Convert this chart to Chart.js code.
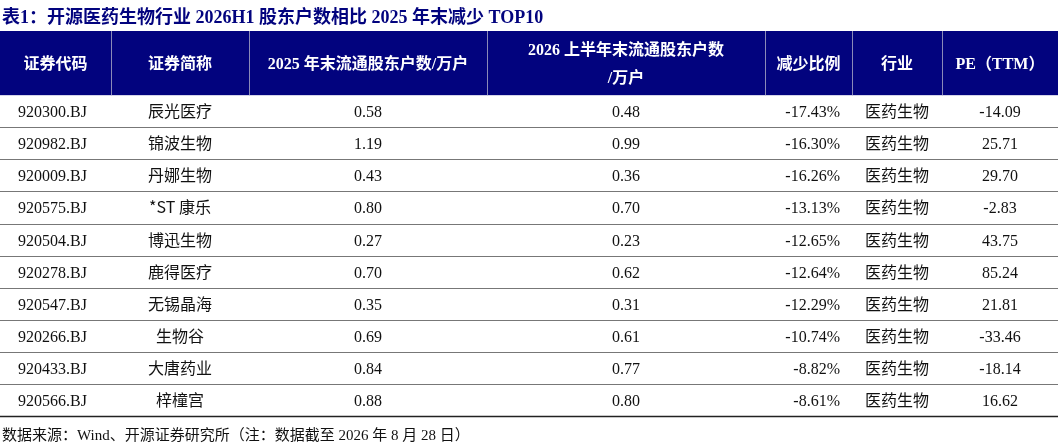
<!DOCTYPE html>
<html>
<head>
<meta charset="utf-8">
<script src="https://cdn.jsdelivr.net/npm/chart.js@4"></script>
<style>
  html, body { margin: 0; padding: 0; background: #fff; }
  #wrap { width: 1058px; height: 447px; position: relative; }
</style>
</head>
<body>
<div id="wrap"><canvas id="tbl"></canvas></div>
<script>
// table data
const headers = ['证券代码', '证券简称', '2025 年末流通股东户数/万户', '2026 上半年末流通股东户数\n/万户', '减少比例', '行业', 'PE（TTM）'];
const codes = ['920300.BJ', '920982.BJ', '920009.BJ', '920575.BJ', '920504.BJ', '920278.BJ', '920547.BJ', '920266.BJ', '920433.BJ', '920566.BJ'];
const names = ['辰光医疗', '锦波生物', '丹娜生物', '*ST 康乐', '博迅生物', '鹿得医疗', '无锡晶海', '生物谷', '大唐药业', '梓橦宫'];
const holders2025 = [0.58, 1.19, 0.43, 0.80, 0.27, 0.70, 0.35, 0.69, 0.84, 0.88];
const holders2026 = [0.48, 0.99, 0.36, 0.70, 0.23, 0.62, 0.31, 0.61, 0.77, 0.80];
const dropPct = [-17.43, -16.30, -16.26, -13.13, -12.65, -12.64, -12.29, -10.74, -8.82, -8.61];
const industry = ['医药生物', '医药生物', '医药生物', '医药生物', '医药生物', '医药生物', '医药生物', '医药生物', '医药生物', '医药生物'];
const pe = [-14.09, 25.71, 29.70, -2.83, 43.75, 85.24, 21.81, -33.46, -18.14, 16.62];

const titleText = '表1：开源医药生物行业 2026H1 股东户数相比 2025 年末减少 TOP10';
const sourceText = '数据来源：Wind、开源证券研究所（注：数据截至 2026 年 8 月 28 日）';

// layout (column edges in x-units, rows in y-units)
const colEdges = [0, 111, 249, 487, 765, 852, 942, 1058];
const NAVY = '#02037e';
const SERIF = '"Liberation Serif", "Noto Sans CJK SC", serif';
const CJK = '"Noto Sans CJK SC", sans-serif';

function cellText(r, c) {
  return [codes[r], names[r], holders2025[r].toFixed(2), holders2026[r].toFixed(2),
    dropPct[r].toFixed(2) + '%', industry[r], pe[r].toFixed(2)][c];
}

const tablePlugin = {
  id: 'tablePlugin',
  afterDraw(chart) {
    const ctx = chart.ctx;
    const x = chart.scales.x, y = chart.scales.y;
    ctx.save();
    ctx.textBaseline = 'alphabetic';
    // title
    ctx.fillStyle = NAVY;
    ctx.font = 'bold 18px ' + SERIF;
    ctx.textAlign = 'left';
    ctx.fillText(titleText, 2, 23);
    // header band
    const hTop = y.getPixelForValue(-2), hBot = y.getPixelForValue(0);
    ctx.fillStyle = NAVY;
    ctx.fillRect(x.getPixelForValue(0), hTop, x.getPixelForValue(1058) - x.getPixelForValue(0), hBot - hTop);
    ctx.strokeStyle = '#8a8ab8';
    ctx.lineWidth = 1;
    for (let i = 1; i < colEdges.length - 1; i++) {
      const px = Math.round(x.getPixelForValue(colEdges[i])) + 0.5;
      ctx.beginPath(); ctx.moveTo(px, hTop); ctx.lineTo(px, hBot); ctx.stroke();
    }
    ctx.fillStyle = '#fff';
    ctx.font = 'bold 16px ' + SERIF;
    ctx.textAlign = 'center';
    headers.forEach((h, c) => {
      const cx = (x.getPixelForValue(colEdges[c]) + x.getPixelForValue(colEdges[c + 1])) / 2;
      const lines = h.split('\n');
      const mid = (hTop + hBot) / 2 + 6;
      lines.forEach((ln, i) => {
        ctx.fillText(ln, cx, mid + (i - (lines.length - 1) / 2) * 28);
      });
    });
    // rows
    ctx.fillStyle = '#111';
    codes.forEach((_, r) => {
      const top = y.getPixelForValue(r), bot = y.getPixelForValue(r + 1);
      const base = (top + bot) / 2 + 6;
      for (let c = 0; c < headers.length; c++) {
        const l = x.getPixelForValue(colEdges[c]), rr = x.getPixelForValue(colEdges[c + 1]);
        const t = cellText(r, c);
        ctx.font = (c === 1 || c === 5) ? '16px ' + CJK : '16px ' + SERIF;
        if (c === 0) { ctx.textAlign = 'left'; ctx.fillText(t, l + 18, base); }
        else if (c === 4) { ctx.textAlign = 'right'; ctx.fillText(t, rr - 12, base); }
        else { ctx.textAlign = 'center'; ctx.fillText(t, (l + rr) / 2, base); }
      }
      ctx.strokeStyle = r === codes.length - 1 ? '#222' : '#777';
      ctx.lineWidth = r === codes.length - 1 ? 1.5 : 1.2;
      const py = Math.round(bot) + 0.5;
      ctx.beginPath(); ctx.moveTo(x.getPixelForValue(0), py); ctx.lineTo(x.getPixelForValue(1058), py); ctx.stroke();
    });
    // source
    ctx.fillStyle = '#111';
    ctx.textAlign = 'left';
    ctx.font = '15px ' + SERIF;
    ctx.fillText(sourceText, 2, 440);
    ctx.restore();
  }
};

new Chart(document.getElementById('tbl'), {
  type: 'scatter',
  data: { datasets: [{ data: [] }] },
  options: {
    responsive: true,
    maintainAspectRatio: false,
    animation: false,
    layout: { padding: { top: 31, bottom: 31, left: 0, right: 0 } },
    plugins: { legend: { display: false }, tooltip: { enabled: false } },
    scales: {
      x: { type: 'linear', min: 0, max: 1058, display: false },
      y: { type: 'linear', min: -2, max: 10, reverse: true, display: false }
    }
  },
  plugins: [tablePlugin]
});
</script>
</body>
</html>
